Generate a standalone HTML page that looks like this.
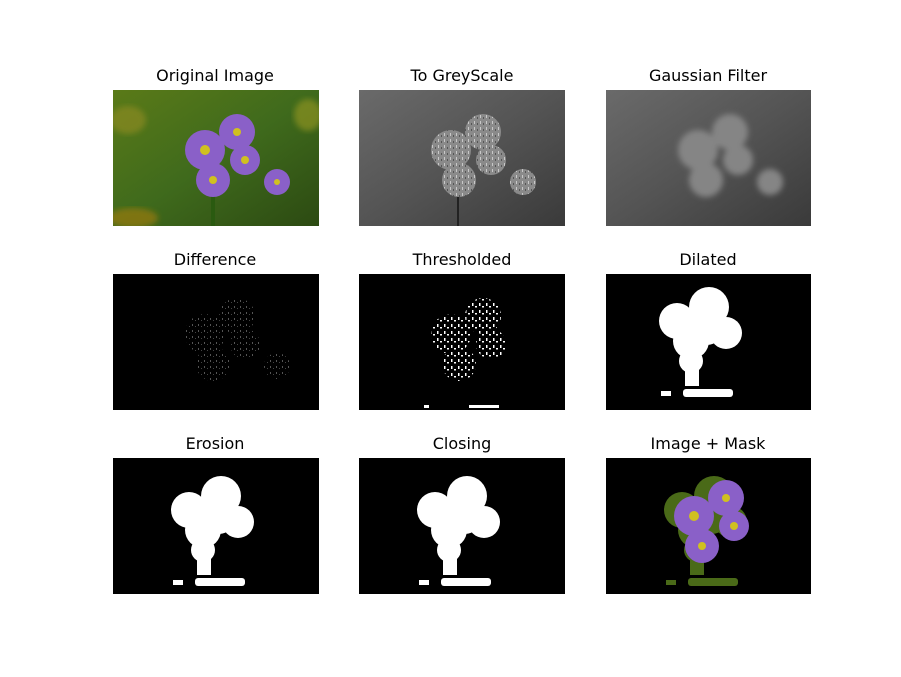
<!DOCTYPE html>
<html><head><meta charset="utf-8"><style>
html,body{margin:0;padding:0;background:#fff;}
svg{display:block;font-family:"DejaVu Sans","Liberation Sans",sans-serif;}
</style></head><body>
<svg width="901" height="677" viewBox="0 0 901 677">
<defs>
<clipPath id="clip"><rect width="206" height="136"/></clipPath>
<linearGradient id="gOrig" x1="0" y1="0" x2="1" y2="1">
<stop offset="0" stop-color="#5a7a18"/><stop offset="0.5" stop-color="#3f6a1c"/><stop offset="1" stop-color="#2c4a12"/></linearGradient>
<linearGradient id="gGrey" x1="0" y1="0" x2="1" y2="1">
<stop offset="0" stop-color="#6a6a6a"/><stop offset="0.5" stop-color="#545454"/><stop offset="1" stop-color="#3a3a3a"/></linearGradient>
<pattern id="specks" width="7" height="7" patternUnits="userSpaceOnUse">
<rect x="1" y="1" width="1.5" height="3" fill="#fff"/><rect x="4" y="4" width="2" height="1.5" fill="#fff"/></pattern>
<pattern id="faint" width="6" height="6" patternUnits="userSpaceOnUse">
<rect x="1" y="2" width="1" height="2" fill="#555"/><rect x="4" y="4" width="1" height="1" fill="#444"/></pattern>
<pattern id="greyTex" width="6" height="6" patternUnits="userSpaceOnUse">
<rect width="6" height="6" fill="#8a8a8a"/><rect x="1" y="1" width="1" height="3" fill="#c8c8c8"/><rect x="4" y="3" width="1" height="2" fill="#555"/></pattern>
<filter id="blur1"><feGaussianBlur stdDeviation="1.5"/></filter>
<filter id="blur3"><feGaussianBlur stdDeviation="3"/></filter>
<g id="flowers">
<circle cx="92" cy="60" r="20"/><circle cx="124" cy="42" r="18"/><circle cx="132" cy="70" r="15"/><circle cx="100" cy="90" r="17"/><circle cx="164" cy="92" r="13"/>
</g>
<g id="flowers4">
<circle cx="92" cy="60" r="20"/><circle cx="124" cy="42" r="18"/><circle cx="132" cy="70" r="15"/><circle cx="100" cy="90" r="17"/>
</g>
<g id="blob">
<circle cx="86" cy="52" r="18"/><circle cx="118" cy="38" r="20"/><circle cx="135" cy="64" r="16"/><circle cx="100" cy="72" r="18"/><circle cx="116" cy="60" r="16"/>
<circle cx="100" cy="92" r="12"/><rect x="94" y="95" width="14" height="22"/>
<rect x="70" y="122" width="10" height="5"/><rect x="92" y="120" width="50" height="8" rx="3"/>
</g>
</defs>

<!-- Row 1 -->
<text x="215" y="81" text-anchor="middle" font-size="16">Original Image</text>
<g transform="translate(113,90)" clip-path="url(#clip)">
<rect width="206" height="136" fill="url(#gOrig)"/>
<ellipse cx="15" cy="30" rx="18" ry="14" fill="#8a8a20" opacity="0.7" filter="url(#blur3)"/>
<ellipse cx="195" cy="25" rx="14" ry="16" fill="#9a9a20" opacity="0.6" filter="url(#blur3)"/>
<ellipse cx="20" cy="128" rx="25" ry="10" fill="#9a7a10" opacity="0.7" filter="url(#blur3)"/>
<rect x="98" y="90" width="4" height="46" fill="#2a5a10"/>
<use href="#flowers" fill="#8a60c8"/>
<g fill="#d0c020"><circle cx="92" cy="60" r="5"/><circle cx="124" cy="42" r="4"/><circle cx="132" cy="70" r="4"/><circle cx="100" cy="90" r="4"/><circle cx="164" cy="92" r="3"/></g>
</g>
<text x="462" y="81" text-anchor="middle" font-size="16">To GreyScale</text>
<g transform="translate(359,90)" clip-path="url(#clip)">
<rect width="206" height="136" fill="url(#gGrey)"/>
<rect x="98" y="90" width="2" height="46" fill="#222"/>
<use href="#flowers" fill="url(#greyTex)"/>
</g>
<text x="708" y="81" text-anchor="middle" font-size="16">Gaussian Filter</text>
<g transform="translate(606,90)" clip-path="url(#clip)">
<rect width="205" height="136" fill="url(#gGrey)"/>
<use href="#flowers" fill="#858585" filter="url(#blur3)"/>
</g>

<!-- Row 2 -->
<text x="215" y="265" text-anchor="middle" font-size="16">Difference</text>
<g transform="translate(113,274)" clip-path="url(#clip)">
<rect width="206" height="136" fill="#000"/>
<use href="#flowers" fill="url(#faint)"/>
</g>
<text x="462" y="265" text-anchor="middle" font-size="16">Thresholded</text>
<g transform="translate(359,274)" clip-path="url(#clip)">
<rect width="206" height="136" fill="#000"/>
<use href="#flowers4" fill="url(#specks)"/>
<rect x="65" y="131" width="5" height="3" fill="#fff"/><rect x="110" y="131" width="30" height="3" fill="#fff"/>
</g>
<text x="708" y="265" text-anchor="middle" font-size="16">Dilated</text>
<g transform="translate(606,274)" clip-path="url(#clip)">
<rect width="205" height="136" fill="#000"/>
<use href="#blob" fill="#fff" transform="translate(-15,-5)"/>
</g>

<!-- Row 3 -->
<text x="215" y="449" text-anchor="middle" font-size="16">Erosion</text>
<g transform="translate(113,458)" clip-path="url(#clip)">
<rect width="206" height="136" fill="#000"/>
<use href="#blob" fill="#fff" transform="translate(-10,0)"/>
</g>
<text x="462" y="449" text-anchor="middle" font-size="16">Closing</text>
<g transform="translate(359,458)" clip-path="url(#clip)">
<rect width="206" height="136" fill="#000"/>
<use href="#blob" fill="#fff" transform="translate(-10,0)"/>
</g>
<text x="708" y="449" text-anchor="middle" font-size="16">Image + Mask</text>
<g transform="translate(606,458)" clip-path="url(#clip)">
<rect width="205" height="136" fill="#000"/>
<use href="#blob" fill="#4a6a18" transform="translate(-10,0)"/>
<g transform="translate(-4,-2)">
<use href="#flowers4" fill="#8a60c8"/>
<g fill="#d0c020"><circle cx="92" cy="60" r="5"/><circle cx="124" cy="42" r="4"/><circle cx="132" cy="70" r="4"/><circle cx="100" cy="90" r="4"/></g>
</g>
</g>
</svg>
</body></html>
